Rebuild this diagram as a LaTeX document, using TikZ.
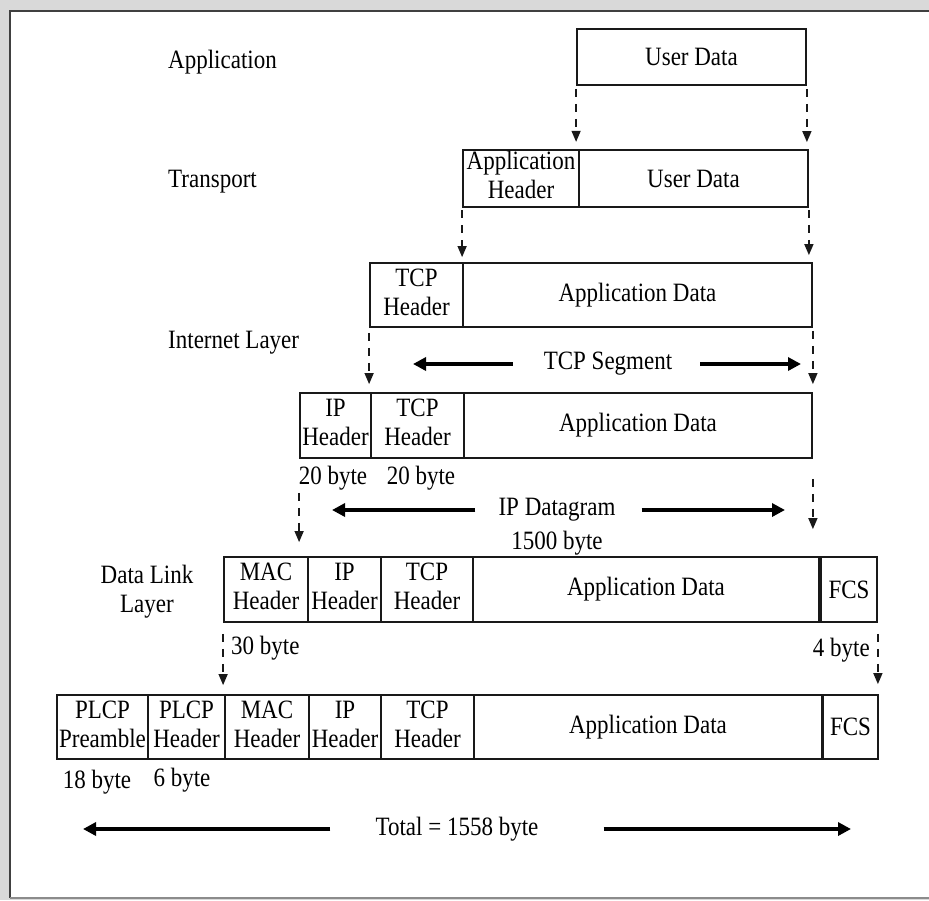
\documentclass[tikz,border=0pt]{standalone}
\usepackage{graphicx}
\usepackage{fontspec}
\setmainfont{Liberation Serif}
\usetikzlibrary{arrows.meta}

% slightly tall lettering, one or two lines
\newcommand\tallt[1]{\scalebox{1}[1.15]{#1}}
\newcommand\twoline[2]{\scalebox{1}[1.15]{\begin{tabular}{@{}c@{}}#1\\#2\end{tabular}}}

% one field of a frame: name, left, right, top, bottom, text
\newcommand\field[6]{%
  \node[cell, minimum width={(#3-#2)*1pt}, minimum height={(#5-#4)*1pt}]
    (#1) at ({(#2+#3)/2},{(#4+#5)/2}) {#6};}

\begin{document}
\begin{tikzpicture}[x=1pt,y=-1pt,
  every node/.style={font=\fontsize{23}{25}\selectfont, inner sep=0pt, text=black},
  cell/.style={draw=black!90, line width=1.8pt, fill=white},
  dasharrow/.style={draw=black!90, line width=1.4pt, dash pattern=on 8pt off 7pt,
    -{Triangle[length=11pt,width=9pt]}},
  bigarrow/.style={draw=black, line width=3.5pt, -{Triangle[length=13pt,width=13pt]}}]

\useasboundingbox (0,0) rectangle (929,900);

% page frame
\fill[black!15] (0,0) rectangle (929,900);
\fill[white] (10,11) rectangle (929,898);
\draw[black!75, line width=2.4pt] (10,898) -- (10,11) -- (929,11);
\draw[black!45, line width=1.5pt] (10,898) -- (929,898);

% layer names
\node[anchor=west] (lapp) at (168,62) {\tallt{Application}};
\node[anchor=west] (ltr) at (168,182) {\tallt{Transport}};
\node[anchor=west] (lint) at (168,343) {\tallt{Internet Layer}};
\node (ldl) at (147,592) {\twoline{Data Link}{Layer}};

% application
\field{u1}{577}{806}{29}{85}{\tallt{User Data}}

% transport
\field{ah}{463}{579}{150}{207}{\twoline{Application}{Header}}
\field{ud2}{579}{808}{150}{207}{\tallt{User Data}}

% TCP segment
\field{tcp3}{370}{463}{263}{327}{\twoline{TCP}{Header}}
\field{ad3}{463}{812}{263}{327}{\tallt{Application Data}}

% IP datagram
\field{ip4}{300}{371}{393}{458}{\twoline{IP}{Header}}
\field{tcp4}{371}{464}{393}{458}{\twoline{TCP}{Header}}
\field{ad4}{464}{812}{393}{458}{\tallt{Application Data}}

% MAC frame
\field{mac5}{224}{308}{557}{622}{\twoline{MAC}{Header}}
\field{ip5}{308}{381}{557}{622}{\twoline{IP}{Header}}
\field{tcp5}{381}{473}{557}{622}{\twoline{TCP}{Header}}
\field{ad5}{473}{819}{557}{622}{\tallt{Application Data}}
\field{fcs5}{821}{877}{557}{622}{\tallt{FCS}}

% PLCP frame
\field{pre6}{57}{148}{695}{759}{\twoline{PLCP}{Preamble}}
\field{plh6}{148}{225}{695}{759}{\twoline{PLCP}{Header}}
\field{mac6}{225}{309}{695}{759}{\twoline{MAC}{Header}}
\field{ip6}{309}{381}{695}{759}{\twoline{IP}{Header}}
\field{tcp6}{381}{474}{695}{759}{\twoline{TCP}{Header}}
\field{ad6}{474}{822}{695}{759}{\tallt{Application Data}}
\field{fcs6}{823}{878}{695}{759}{\tallt{FCS}}

% field sizes
\node (b20a) at (333,478) {\tallt{20 byte}};
\node (b20b) at (421,478) {\tallt{20 byte}};
\node (b1500) at (557,543) {\tallt{1500 byte}};
\node[anchor=west] (b30) at (231,648) {\tallt{30 byte}};
\node[anchor=east] (b4) at (870,650) {\tallt{4 byte}};
\node (b18) at (97,782) {\tallt{18 byte}};
\node (b6) at (182,780) {\tallt{6 byte}};

% encapsulation steps
\draw[dasharrow, shorten <=3pt, shorten >=7pt] (u1.south west) -- (u1.south west |- ah.north);
\draw[dasharrow, shorten <=3pt, shorten >=7pt] (u1.south east) -- (u1.south east |- ud2.north);
\draw[dasharrow, shorten <=2pt, shorten >=5pt] (ah.south west) -- (ah.south west |- tcp3.north);
\draw[dasharrow, shorten <=2pt, shorten >=7pt] (ud2.south east) -- (ud2.south east |- ad3.north);
\draw[dasharrow, shorten <=5pt, shorten >=8pt] (tcp3.south west) -- (tcp3.south west |- ip4.north);
\draw[dasharrow, shorten <=3pt, shorten >=8pt] (ad3.south east) -- (ad3.south east |- ad4.north);
\draw[dasharrow, shorten <=34pt, shorten >=14pt] (ip4.south west) -- (ip4.south west |- mac5.north);
\draw[dasharrow, shorten <=20pt, shorten >=27pt] (ad4.south east) -- (ad4.south east |- ad5.north);
\draw[dasharrow, shorten <=11pt, shorten >=9pt] (mac5.south west) -- (mac5.south west |- mac6.north);
\draw[dasharrow, shorten <=11pt, shorten >=10pt] (fcs5.south east) -- (fcs5.south east |- fcs6.north);

% extents
\node (tcpseg) at (608,364) {\tallt{TCP Segment}};
\coordinate (tsl) at (413,364);
\coordinate (tsr) at (801,364);
\draw[bigarrow, shorten <=31pt] (tcpseg.west) -- (tsl);
\draw[bigarrow, shorten <=28pt] (tcpseg.east) -- (tsr);

\node (ipdg) at (557,510) {\tallt{IP Datagram}};
\coordinate (ipl) at (332,510);
\coordinate (ipr) at (785,510);
\draw[bigarrow, shorten <=23pt] (ipdg.west) -- (ipl);
\draw[bigarrow, shorten <=26pt] (ipdg.east) -- (ipr);

\node (total) at (457,829) {\tallt{Total = 1558 byte}};
\coordinate (tol) at (83,829);
\coordinate (tor) at (851,829);
\draw[bigarrow, shorten <=45pt] (total.west) -- (tol);
\draw[bigarrow, shorten <=65pt] (total.east) -- (tor);

\end{tikzpicture}
\end{document}
